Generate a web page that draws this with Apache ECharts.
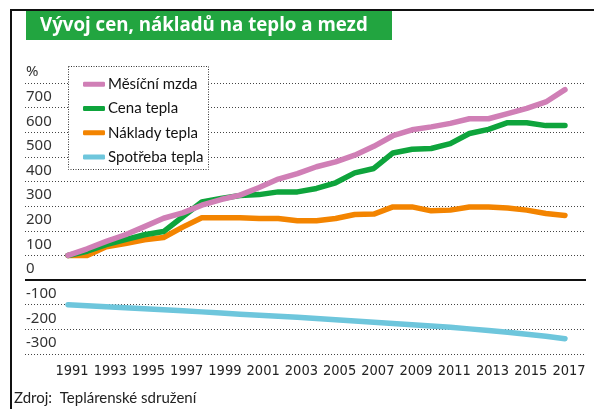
<!DOCTYPE html>
<html>
<head>
<meta charset="utf-8">
<script src="https://cdn.jsdelivr.net/npm/echarts@6/dist/echarts.min.js"></script>
<style>
  html, body { margin: 0; padding: 0; background: #fff; }
  #main { width: 594px; height: 409px; }
</style>
</head>
<body>
<div id="main"></div>
<script>
// data (index 100 = 1991)
const years = [1991, 1992, 1993, 1994, 1995, 1996, 1997, 1998, 1999, 2000, 2001, 2002, 2003, 2004,
  2005, 2006, 2007, 2008, 2009, 2010, 2011, 2012, 2013, 2014, 2015, 2016, 2017];
const yearLabels = [1991, 1993, 1995, 1997, 1999, 2001, 2003, 2005, 2007, 2009, 2011, 2013, 2015, 2017];
const mzda = [100, 127, 157, 184, 217, 251, 273, 304, 327, 345, 376, 410, 432, 460,
  480, 507, 543, 586, 610, 622, 636, 655, 655, 676, 697, 723, 773];
const cenaTepla = [100, 117, 144, 164, 184, 197, 257, 317, 331, 343, 347, 358, 358, 372,
  395, 435, 453, 516, 531, 534, 554, 595, 612, 639, 639, 627, 627];
const nakladyTepla = [100, 100, 135, 148, 164, 173, 215, 253, 253, 253, 250, 250, 241, 241,
  250, 266, 268, 297, 297, 281, 284, 297, 297, 293, 284, 270, 262];
const spotrebaTepla = [-100, -104, -108, -112, -116, -120, -124, -129, -134, -139, -143, -147, -151, -156,
  -161, -166, -171, -176, -181, -186, -191, -198, -205, -212, -220, -228, -238];

const names = ['Měsíční mzda', 'Cena tepla', 'Náklady tepla', 'Spotřeba tepla'];
const colors = ['#d07fb6', '#0ea43c', '#f38400', '#6ec6dc'];

function pairs(arr) {
  return arr.map((v, i) => [years[i], v]);
}

const myChart = echarts.init(document.getElementById('main'));

const lineSeries = [mzda, cenaTepla, nakladyTepla, spotrebaTepla].map((arr, i) => ({
  name: names[i],
  type: 'line',
  data: pairs(arr),
  showSymbol: false,
  z: 10 - i,
  lineStyle: { color: colors[i], width: 5.5, cap: 'round', join: 'round' },
  itemStyle: { color: colors[i] }
}));

// black zero line
lineSeries[0].markLine = {
  silent: true,
  symbol: 'none',
  label: { show: false },
  lineStyle: { color: '#111', width: 2, type: 'solid' },
  data: [{ yAxis: 0 }]
};

const option = {
  animation: false,
  grid: { left: 25, right: 8, top: 83, bottom: 55 },
  xAxis: {
    type: 'value',
    min: 1988.75,
    max: 2018.1,
    axisLine: { show: false },
    axisTick: { show: false },
    splitLine: { show: false },
    axisLabel: {
      customValues: yearLabels,
      margin: 10,
      padding: [0, 0, 0, 8],
      color: '#222',
      fontSize: 14.5,
      fontFamily: 'Liberation Sans Narrow, DejaVu Sans Condensed, sans-serif',
      formatter: v => String(v)
    }
  },
  yAxis: {
    type: 'value',
    min: -300,
    max: 800,
    interval: 100,
    axisLine: { show: false },
    axisTick: { show: false },
    splitLine: { lineStyle: { color: '#444', width: 1, type: [1, 2] } },
    axisLabel: {
      inside: true,
      margin: 1,
      align: 'left',
      verticalAlign: 'bottom',
      lineHeight: 14,
      padding: [0, 0, 4, 0],
      color: '#333',
      fontSize: 15,
      fontFamily: 'Noto Sans, sans-serif',
      formatter: v => (v === 800 ? '%' : String(v))
    }
  },
  legend: {
    orient: 'vertical',
    left: 78,
    top: 70,
    icon: 'roundRect',
    itemWidth: 22,
    itemHeight: 5,
    itemGap: 6,
    z: 20,
    data: names,
    textStyle: { color: '#111', fontSize: 15, lineHeight: 18.3, fontFamily: 'Lato, sans-serif', padding: [0, 0, 0, -2] }
  },
  graphic: [
    { type: 'line', shape: { x1: 11, y1: 10, x2: 11, y2: 409 }, style: { stroke: '#111', lineWidth: 2 }, z: 30 },
    { type: 'line', shape: { x1: 10, y1: 10, x2: 594, y2: 10 }, style: { stroke: '#111', lineWidth: 2 }, z: 30 },
    { type: 'rect', shape: { x: 26, y: 11, width: 366, height: 29 }, style: { fill: '#22a540' }, z: 30 },
    {
      type: 'text', x: 40, y: 25.5, z: 31,
      style: {
        text: 'Vývoj cen, nákladů na teplo a mezd', fill: '#fff', font: 'bold 18.7px "Open Sans", sans-serif',
        textVerticalAlign: 'middle'
      }
    },
    {
      type: 'rect', shape: { x: 68.5, y: 66.5, width: 140, height: 103 },
      style: { fill: '#fff', stroke: '#333', lineWidth: 1, lineDash: [1, 1.5] }, z: 15
    },
    {
      type: 'text', x: 14, y: 398, z: 31,
      style: { text: 'Zdroj:  Teplárenské sdružení', fill: '#222', font: '15px Lato, sans-serif', textVerticalAlign: 'middle' }
    }
  ],
  series: lineSeries
};

option && myChart.setOption(option);
</script>
</body>
</html>
